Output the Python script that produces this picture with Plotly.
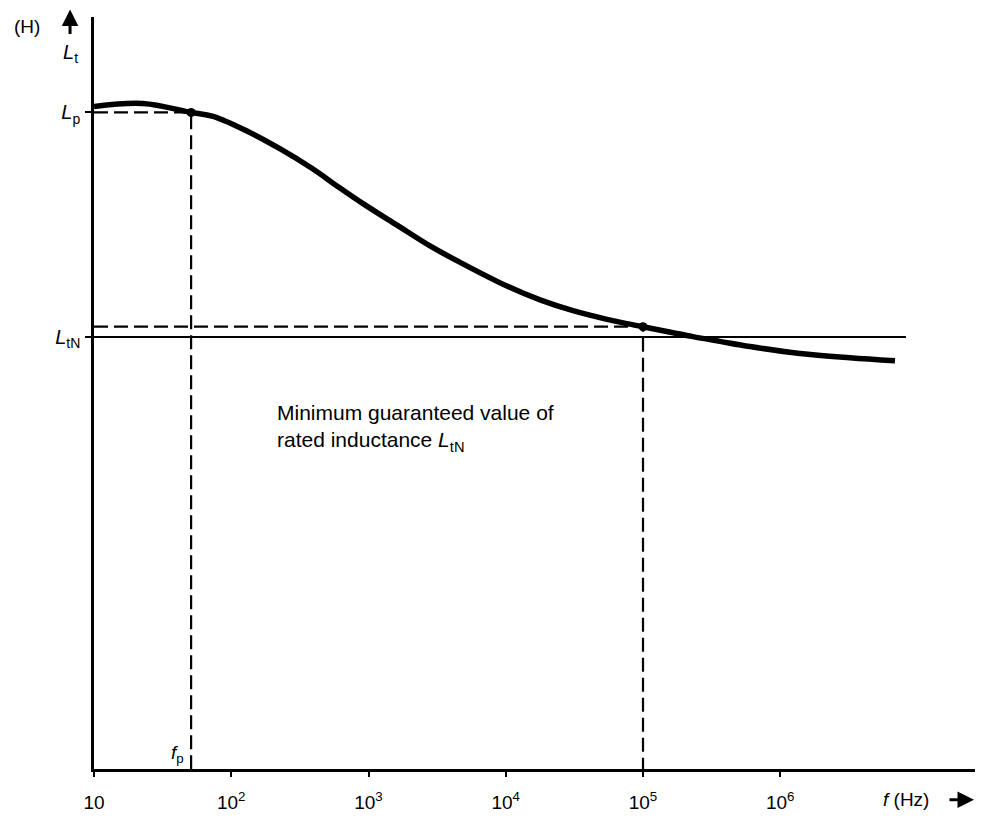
import numpy as np
import plotly.graph_objects as go

# Inductance versus frequency (schematic, log frequency axis)
freq_hz = [10, 22.7, 51, 73.6, 130, 226, 394, 589, 912, 1614, 2805, 4645,
           10210, 17780, 30900, 54700, 1e5, 165600, 231000, 364000, 602600,
           1393000, 3221000, 6855000]
inductance = [1.534, 1.541, 1.520, 1.511, 1.477, 1.436, 1.389, 1.350, 1.309, 1.259,
              1.211, 1.173, 1.118, 1.086, 1.061, 1.041, 1.024, 1.010, 1.001,
              0.990, 0.978, 0.962, 0.952, 0.945]

f_p = 51            # frequency at which L_p is defined
L_p = 1.520
f_check = 1e5       # test frequency
L_check = 1.024
L_tN = 1.0          # minimum guaranteed rated inductance
f_line_end = 8.24e6

tick_vals = [10, 1e2, 1e3, 1e4, 1e5, 1e6]
tick_text = ["10", "10<sup>2</sup>", "10<sup>3</sup>", "10<sup>4</sup>",
             "10<sup>5</sup>", "10<sup>6</sup>"]

FONT = "Liberation Sans, Arial, Helvetica, sans-serif"
dash = "14px,6px"

fig = go.Figure()

# rated level L_tN (solid)
fig.add_trace(go.Scatter(x=[10, f_line_end], y=[L_tN, L_tN], mode="lines",
                         line=dict(color="black", width=2), hoverinfo="skip"))

# dashed construction lines
fig.add_trace(go.Scatter(x=[10, f_p, f_p], y=[L_p, L_p, 0], mode="lines",
                         line=dict(color="black", width=2.2, dash=dash), hoverinfo="skip"))
fig.add_trace(go.Scatter(x=[10, f_check, f_check], y=[L_check, L_check, 0], mode="lines",
                         line=dict(color="black", width=2.2, dash=dash), hoverinfo="skip"))

# measured curve
fig.add_trace(go.Scatter(x=freq_hz, y=inductance, mode="lines",
                         line=dict(color="black", width=5.5, shape="spline", smoothing=1.0),
                         hoverinfo="skip"))

# marked points
fig.add_trace(go.Scatter(x=[f_p, f_check], y=[L_p, L_check], mode="markers",
                         marker=dict(color="black", size=9, symbol="circle"), hoverinfo="skip"))

annotations = [
    dict(x=np.log10(208), y=0.789, xref="x", yref="y", xanchor="left", yanchor="middle",
         align="left", showarrow=False,
         text="Minimum guaranteed value of<br>rated inductance <i>L</i><sub>tN</sub>",
         font=dict(size=21, family=FONT, color="black")),
    dict(x=np.log10(f_p), y=0.034, xref="x", yref="y", xanchor="right", yanchor="middle",
         xshift=-5, showarrow=False, text="<i>f</i><sub>p</sub>",
         font=dict(size=19, family=FONT, color="black")),
    dict(x=-0.076, y=0.988, xref="paper", yref="paper", xanchor="center", yanchor="middle",
         showarrow=False, text="(H)", font=dict(size=19, family=FONT, color="black")),
    dict(x=-0.0272, y=0.952, xref="paper", yref="paper", xanchor="center", yanchor="middle",
         showarrow=False, text="<i>L</i><sub>t</sub>", font=dict(size=20, family=FONT, color="black")),
    dict(x=-0.0272, y=1.010, xref="paper", yref="paper", ax=0, ay=26, text="",
         showarrow=True, arrowhead=2, arrowsize=1.1, arrowwidth=3, arrowcolor="black"),
    dict(x=(906 - 94) / 881, y=-0.041, xref="paper", yref="paper", xanchor="center",
         yanchor="middle", showarrow=False, text="<i>f</i> (Hz)",
         font=dict(size=19, family=FONT, color="black")),
    dict(x=(974 - 94) / 881, y=-0.041, xref="paper", yref="paper", ax=-26, ay=0, text="",
         showarrow=True, arrowhead=2, arrowsize=1.1, arrowwidth=3, arrowcolor="black"),
]

fig.update_layout(
    width=994, height=825,
    margin=dict(l=94, r=19, t=17, b=42),
    paper_bgcolor="white", plot_bgcolor="white",
    showlegend=False,
    font=dict(family=FONT, size=19, color="black"),
    annotations=annotations,
)

fig.update_xaxes(type="log", range=[1, 7.419], tickvals=tick_vals, ticktext=tick_text,
                 ticks="outside", ticklen=5, tickwidth=2, tickcolor="black",
                 showline=True, linecolor="black", linewidth=2.5,
                 showgrid=False, zeroline=False, ticklabelstandoff=9,
                 tickfont=dict(size=19, family=FONT, color="black"))
fig.update_yaxes(range=[0, 1.741], tickvals=[L_tN, L_p],
                 ticktext=["<i>L</i><sub>tN</sub>", "<i>L</i><sub>p</sub>"],
                 ticks="outside", ticklen=6, tickwidth=2, tickcolor="black",
                 showline=True, linecolor="black", linewidth=2.5,
                 showgrid=False, zeroline=False, ticklabelstandoff=1,
                 tickfont=dict(size=20, family=FONT, color="black"))

fig.write_html("out.html")
